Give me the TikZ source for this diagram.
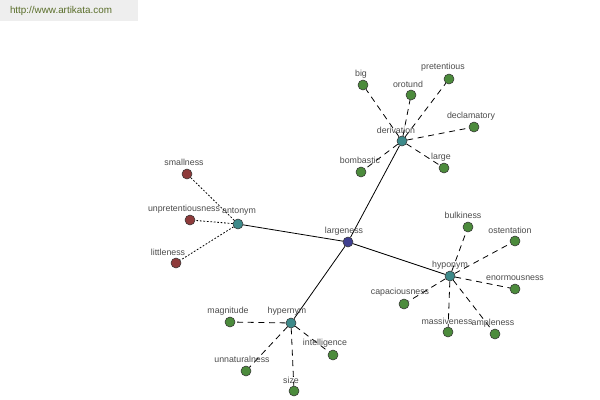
\documentclass[tikz,border=0pt]{standalone}
\usepackage{fontspec}
\setmainfont{Liberation Sans}
\usepackage{tikz}
\usetikzlibrary{positioning, calc}

\definecolor{leafGreen}{HTML}{4C8B3C}
\definecolor{leafRed}{HTML}{8E3B3B}
\definecolor{hubTeal}{HTML}{3D8A8A}
\definecolor{rootBlue}{HTML}{3F3F8F}
\definecolor{wmGray}{HTML}{EEEEEE}
\definecolor{wmText}{HTML}{5A6E2A}

\begin{document}
\begin{tikzpicture}[
	x=0.75pt, y=-0.75pt,
	dot/.style={circle, draw=black!80, line width=.4pt, inner sep=0pt, minimum size=7.5pt},
	leaf/.style={dot, fill=leafGreen},
	antLeaf/.style={dot, fill=leafRed},
	hub/.style={dot, fill=hubTeal},
	root/.style={dot, fill=rootBlue},
	word/.style={text=black!70, font=\fontsize{6.6}{7.5}\selectfont, inner sep=0pt},
	hubLink/.style={line width=.6pt},
	dashLink/.style={line width=.6pt, dash pattern=on 4.5pt off 3.5pt},
	dotLink/.style={line width=.6pt, dash pattern=on 1.3pt off 1.3pt}
	]
	
	\useasboundingbox (0,0) rectangle (600,400);
	\fill[white] (0,0) rectangle (600,400);
	
	% watermark
	\fill[wmGray] (0,0) rectangle (138,21);
	\node[text=wmText, font=\fontsize{7.4}{8.5}\selectfont, inner sep=0pt] (wm) at (61,11) {http://www.artikata.com};
	
	% hubs
	\node[root] (largeness) at (348,242) {};
	\node[hub] (derivation) at (402,141) {};
	\node[hub] (antonym) at (238,224) {};
	\node[hub] (hyponym) at (450,276) {};
	\node[hub] (hypernym) at (291,323) {};
	
	% derivation
	\node[leaf] (big) at (363,85) {};
	\node[leaf] (orotund) at (411,95) {};
	\node[leaf] (pretentious) at (449,79) {};
	\node[leaf] (declamatory) at (474,127) {};
	\node[leaf] (large) at (444,168) {};
	\node[leaf] (bombastic) at (361,172) {};
	
	% antonym
	\node[antLeaf] (smallness) at (187,174) {};
	\node[antLeaf] (unpretentiousness) at (190,220) {};
	\node[antLeaf] (littleness) at (176,263) {};
	
	% hyponym
	\node[leaf] (bulkiness) at (468,227) {};
	\node[leaf] (ostentation) at (515,241) {};
	\node[leaf] (enormousness) at (515,289) {};
	\node[leaf] (ampleness) at (495,334) {};
	\node[leaf] (massiveness) at (448,332) {};
	\node[leaf] (capaciousness) at (404,304) {};
	
	% hypernym
	\node[leaf] (magnitude) at (230,322) {};
	\node[leaf] (unnaturalness) at (246,371) {};
	\node[leaf] (size) at (294,391) {};
	\node[leaf] (intelligence) at (333,355) {};
	
	% links
	\draw[hubLink] (largeness) -- (derivation);
	\draw[hubLink] (largeness) -- (antonym);
	\draw[hubLink] (largeness) -- (hyponym);
	\draw[hubLink] (largeness) -- (hypernym);
	\foreach \w in {big, orotund, pretentious, declamatory, large, bombastic}
		\draw[dashLink] (derivation) -- (\w);
	\foreach \w in {smallness, unpretentiousness, littleness}
		\draw[dotLink] (antonym) -- (\w);
	\foreach \w in {bulkiness, ostentation, enormousness, ampleness, massiveness, capaciousness}
		\draw[dashLink] (hyponym) -- (\w);
	\foreach \w in {magnitude, unnaturalness, size, intelligence}
		\draw[dashLink] (hypernym) -- (\w);
	
	% words
	\node[word] (largenessW) at ($(largeness) + (-4,-11)$) {largeness};
	\node[word] (derivationW) at ($(derivation) + (-6,-11)$) {derivation};
	\node[word] (antonymW) at ($(antonym) + (1,-12)$) {antonym};
	\node[word] (hyponymW) at ($(hyponym) + (0,-11)$) {hyponym};
	\node[word] (hypernymW) at ($(hypernym) + (-4,-12)$) {hypernym};
	
	\node[word] (bigW) at ($(big) + (-2,-11)$) {big};
	\node[word] (orotundW) at ($(orotund) + (-3,-11)$) {orotund};
	\node[word] (pretentiousW) at ($(pretentious) + (-6,-12)$) {pretentious};
	\node[word] (declamatoryW) at ($(declamatory) + (-3,-11)$) {declamatory};
	\node[word] (largeW) at ($(large) + (-3,-11)$) {large};
	\node[word] (bombasticW) at ($(bombastic) + (-1,-12)$) {bombastic};
	
	\node[word] (smallnessW) at ($(smallness) + (-3,-12)$) {smallness};
	\node[word] (unpretentiousnessW) at ($(unpretentiousness) + (-6,-11)$) {unpretentiousness};
	\node[word] (littlenessW) at ($(littleness) + (-8,-11)$) {littleness};
	
	\node[word] (bulkinessW) at ($(bulkiness) + (-5,-12)$) {bulkiness};
	\node[word] (ostentationW) at ($(ostentation) + (-5,-11)$) {ostentation};
	\node[word] (enormousnessW) at ($(enormousness) + (0,-11)$) {enormousness};
	\node[word] (amplenessW) at ($(ampleness) + (-2,-11)$) {ampleness};
	\node[word] (massivenessW) at ($(massiveness) + (-1,-11)$) {massiveness};
	\node[word] (capaciousnessW) at ($(capaciousness) + (-4,-12)$) {capaciousness};
	
	\node[word] (magnitudeW) at ($(magnitude) + (-2,-11)$) {magnitude};
	\node[word] (unnaturalnessW) at ($(unnaturalness) + (-4,-12)$) {unnaturalness};
	\node[word] (sizeW) at ($(size) + (-3,-11)$) {size};
	\node[word] (intelligenceW) at ($(intelligence) + (-8,-12)$) {intelligence};
	\end{tikzpicture}
\end{document}
